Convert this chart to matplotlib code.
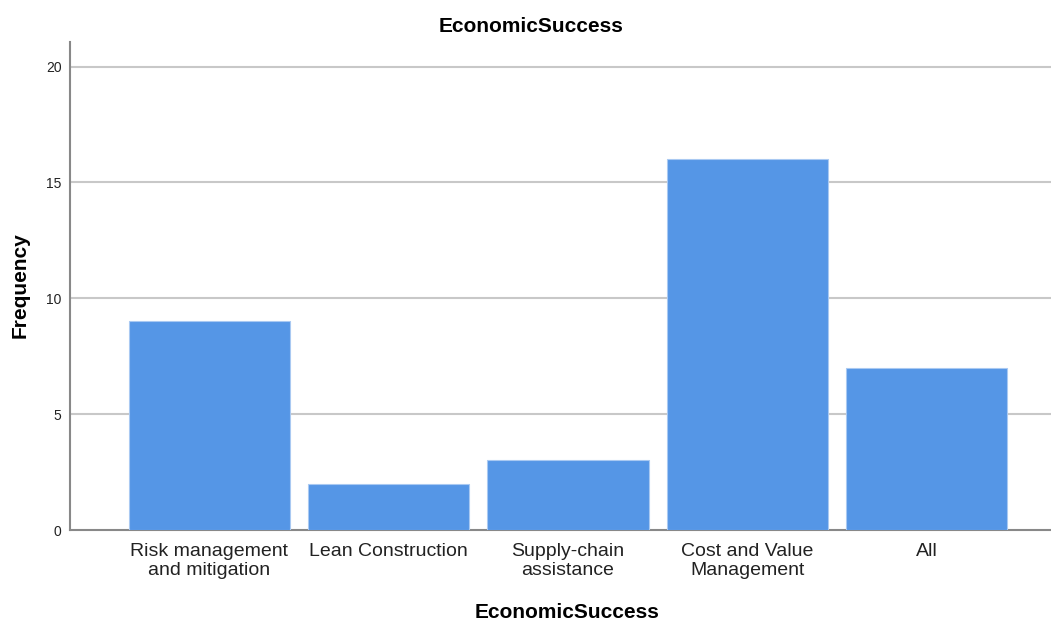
import matplotlib
matplotlib.use("Agg")
import matplotlib.pyplot as plt

categories = ["Risk management\nand mitigation", "Lean Construction",
              "Supply-chain\nassistance", "Cost and Value\nManagement", "All"]
frequencies = [9, 2, 3, 16, 7]
y_ticks = [0, 5, 10, 15, 20]

plt.rcParams["font.family"] = ["Liberation Sans", "DejaVu Sans"]

fig = plt.figure(figsize=(10.51, 6.21), dpi=100)
ax = fig.add_axes([70 / 1051, 1 - 530 / 621, 1 - 70 / 1051, (530 - 42) / 621])

x = list(range(len(categories)))
ax.bar(x, frequencies, width=0.9, color="#5596e6", edgecolor="#a9c9f2",
       linewidth=0.8, zorder=3)

ax.set_xlim(-0.778, 4.695)
ax.set_ylim(0, 21.06)
ax.set_yticks(y_ticks)
ax.set_yticklabels([str(t) for t in y_ticks], fontsize=10)
ax.set_xticks(x)
ax.set_xticklabels(categories, fontsize=14, linespacing=1.22)
ax.tick_params(axis="both", length=0, colors="#222222")
ax.tick_params(axis="y", pad=6)
ax.tick_params(axis="x", pad=9)

for t in y_ticks[1:]:
    ax.axhline(t, color="#c8c8c8", linewidth=1.5, zorder=1)

for side in ("top", "right"):
    ax.spines[side].set_visible(False)
ax.spines["left"].set_color("#888888")
ax.spines["left"].set_linewidth(1.5)
ax.spines["bottom"].set_color("#888888")
ax.spines["bottom"].set_linewidth(1.5)

fig.text(20 / 1051, 1 - 285 / 621, "Frequency", fontsize=15, fontweight="bold",
         rotation=90, ha="center", va="center")
fig.text(567 / 1051, 1 - 612 / 621, "EconomicSuccess", fontsize=15,
         fontweight="bold", ha="center", va="center")
fig.text(531 / 1051, 1 - 26 / 621, "EconomicSuccess",
         fontsize=15, fontweight="bold", ha="center", va="center")

fig.savefig("out.png", dpi=100)
